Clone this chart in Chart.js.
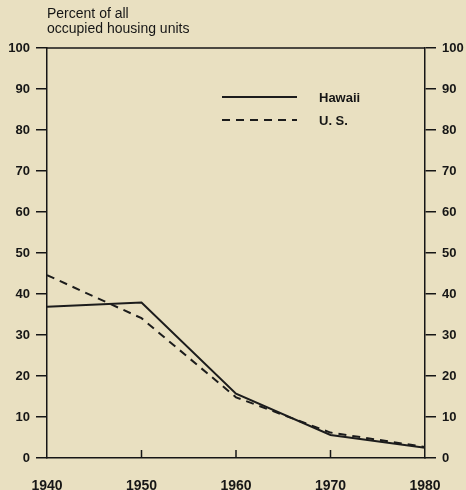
<!DOCTYPE html>
<html>
<head>
<meta charset="utf-8">
<script src="https://cdn.jsdelivr.net/npm/chart.js@4/dist/chart.umd.min.js"></script>
<style>
  html, body { margin: 0; padding: 0; background: #e9e0c1; }
  canvas { display: block; }
</style>
</head>
<body>
<canvas id="grafico" width="466" height="490"></canvas>
<script>
// dados
var anos = [1940, 1950, 1960, 1970, 1980];
var valoresHawaii = [36.9, 37.9, 15.7, 5.6, 2.5];
var valoresUS = [44.6, 34.1, 14.8, 6.2, 2.7];
var ticksY = [0, 10, 20, 30, 40, 50, 60, 70, 80, 90, 100];
var tituloEixo = ['Percent of all', 'occupied housing units'];

var corTexto = '#161616';
var fonte = '"Liberation Sans", Arial, sans-serif';

var pontos = function(valores){
	var out = [];
	for (i = 0; i < anos.length; i++) {
		out.push({x: anos[i], y: valores[i]});
	}
	return out;
};

// titulo, legenda, moldura e ticks internos do eixo x
var pluginExtras = {
	id: 'extras',
	afterDraw: function(chart){
		var ctx = chart.ctx;
		var area = chart.chartArea;
		ctx.save();
		ctx.strokeStyle = corTexto;
		ctx.lineWidth = 1.5;

		// borda superior
		ctx.beginPath();
		ctx.moveTo(area.left, area.top);
		ctx.lineTo(area.right, area.top);
		ctx.stroke();

		// ticks para dentro no eixo x
		var sx = chart.scales.x;
		sx.ticks.forEach(function(t){
			if (t.value > sx.min && t.value < sx.max) {
				var px = sx.getPixelForValue(t.value);
				ctx.beginPath();
				ctx.moveTo(px, area.bottom);
				ctx.lineTo(px, area.bottom - 8);
				ctx.stroke();
			}
		});

		// titulo do eixo
		ctx.fillStyle = corTexto;
		ctx.font = '14px ' + fonte;
		ctx.textAlign = 'left';
		ctx.textBaseline = 'alphabetic';
		ctx.fillText(tituloEixo[0], area.left, 18);
		ctx.fillText(tituloEixo[1], area.left, 33);

		// legenda
		ctx.font = 'bold 13px ' + fonte;
		chart.data.datasets.forEach(function(ds, i){
			var y = 97 + i * 23;
			ctx.beginPath();
			ctx.lineWidth = ds.borderWidth;
			ctx.setLineDash(ds.borderDash || []);
			ctx.strokeStyle = ds.borderColor;
			ctx.moveTo(222, y);
			ctx.lineTo(297, y);
			ctx.stroke();
			ctx.setLineDash([]);
			ctx.textBaseline = 'middle';
			ctx.fillText(ds.label, 319, y + 1);
		});
		ctx.restore();
	}
};

var fundo = {
	id: 'fundo',
	beforeDraw: function(chart){
		var ctx = chart.ctx;
		ctx.save();
		ctx.fillStyle = '#e9e0c1';
		ctx.fillRect(0, 0, chart.width, chart.height);
		ctx.restore();
	}
};

var eixoY = function(posicao, largura){
	return {
		type: 'linear',
		position: posicao,
		min: 0,
		max: 100,
		afterBuildTicks: function(scale){
			scale.ticks = ticksY.map(function(v){ return {value: v}; });
		},
		afterFit: function(scale){ scale.width = largura; },
		border: { display: true, color: corTexto, width: 1.5 },
		grid: { drawOnChartArea: false, drawTicks: true, tickLength: 11, color: corTexto, lineWidth: 1.5 },
		ticks: { color: corTexto, font: { family: fonte, size: 13, weight: 'bold' }, padding: 6 }
	};
};

var myLineChart = new Chart(document.getElementById('grafico'), {
	type: 'line',
	data: {
		datasets: [{
			label: 'Hawaii',
			data: pontos(valoresHawaii),
			borderColor: '#1c1c1c',
			borderWidth: 2,
			pointRadius: 0,
			tension: 0,
			fill: false
		}, {
			label: 'U. S.',
			data: pontos(valoresUS),
			borderColor: '#1c1c1c',
			borderWidth: 2,
			borderDash: [8, 6],
			pointRadius: 0,
			tension: 0,
			fill: false
		}]
	},
	options: {
		responsive: false,
		animation: false,
		layout: { padding: { top: 48, left: 0, right: 0, bottom: 0 } },
		plugins: { legend: { display: false }, tooltip: { enabled: false } },
		scales: {
			x: {
				type: 'linear',
				min: 1940,
				max: 1980,
				afterBuildTicks: function(scale){
					scale.ticks = anos.map(function(v){ return {value: v}; });
				},
				afterFit: function(scale){ scale.height = 32; },
				border: { display: true, color: corTexto, width: 1.5 },
				grid: { drawOnChartArea: false, drawTicks: false },
				ticks: {
					color: corTexto,
					font: { family: fonte, size: 14, weight: 'bold' },
					padding: 20,
					autoSkip: false,
					maxRotation: 0,
					callback: function(v){ return String(v); }
				}
			},
			y: eixoY('left', 47),
			y2: eixoY('right', 41)
		}
	},
	plugins: [fundo, pluginExtras]
});
</script>
</body>
</html>
